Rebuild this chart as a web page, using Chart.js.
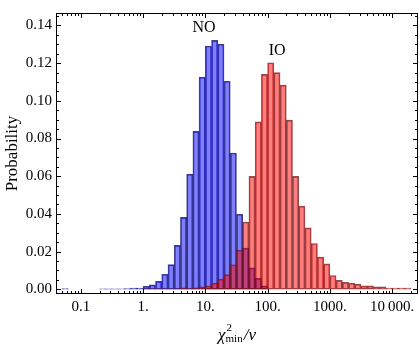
<!DOCTYPE html>
<html>
<head>
<meta charset="utf-8">
<script src="https://cdn.jsdelivr.net/npm/chart.js@4/dist/chart.umd.min.js"></script>
<style>
  html, body { margin: 0; padding: 0; background: #fff; }
  #wrap { width: 420px; height: 345px; }
</style>
</head>
<body>
<div id="wrap"><canvas id="histChart"></canvas></div>
<script>
// bins are 0.1 wide in log10(chi2/nu), each series starts at its first bin edge
const binWidthLog = 0.1;

const noStartLog = -1.3;
const noValues = [
    0.0004, null, null, null, null, null,
    0.0003, 0.0003, 0.0003, 0.0003, 0.0004, 0.0006, 0.0006,
    0.0016, 0.0023, 0.0042, 0.0080, 0.0131, 0.0233, 0.0382, 0.0611, 0.0838, 0.1126,
    0.1291, 0.1321, 0.1300, 0.1104, 0.0723, 0.0398, 0.0218, 0.0114, 0.0058, 0.0018
];

const ioStartLog = 0.0;
const ioValues = [
    0.0002, 0.0002, 0.0002, 0.0002, 0.0003, 0.0003, 0.0008, 0.0004, 0.0008, 0.0013,
    0.0018, 0.0032, 0.0054, 0.0078, 0.0130, 0.0207, 0.0357, 0.0599, 0.0888, 0.1140,
    0.1202, 0.1150, 0.1083, 0.0898, 0.0599, 0.0441, 0.0326, 0.0243, 0.0171, 0.0135,
    0.0073, 0.0047, 0.0037, 0.0032, 0.0027, 0.0018, 0.0018, 0.0013, 0.0013, 0.0006,
    0.0006, 0.0006, 0.0006
];

const xTickValues = [0.1, 1, 10, 100, 1000, 10000];
const xTickLabels = ['0.1', '1.', '10.', '100.', '1000.', '10\u2009000.'];
const yTickValues = [0, 0.02, 0.04, 0.06, 0.08, 0.10, 0.12, 0.14];

const serif = '"Liberation Serif", "DejaVu Serif", serif';

function toPoints(startLog, values) {
    return values.map((v, i) => {
        // round so both series share exactly the same bin centres
        const centre = Math.round((startLog + (i + 0.5) * binWidthLog) * 1000) / 1000;
        return { x: Math.pow(10, centre), y: v };
    });
}

// Frame with inward ticks on all four sides, the series names and the x title
const framePlugin = {
    id: 'frame',
    afterDatasetsDraw(chart) {
        const ctx = chart.ctx;
        const { left, right, top, bottom } = chart.chartArea;
        const xs = chart.scales.x;
        const ys = chart.scales.y;

        ctx.save();
        ctx.strokeStyle = '#000';
        ctx.lineWidth = 1;
        ctx.strokeRect(left + 0.5, top + 0.5, right - left - 1, bottom - top - 1);

        ctx.beginPath();
        for (let d = -2; d <= 4; d++) {
            for (let m = 1; m <= 9; m++) {
                const v = m * Math.pow(10, d);
                if (v < xs.min || v > xs.max) continue;
                const px = Math.round(xs.getPixelForValue(v)) + 0.5;
                const len = m === 1 ? 5 : 3;
                ctx.moveTo(px, bottom);
                ctx.lineTo(px, bottom - len);
                ctx.moveTo(px, top);
                ctx.lineTo(px, top + len);
            }
        }
        for (let k = 0; k <= 29; k++) {
            const v = k * 0.005;
            if (v > ys.max) break;
            const py = Math.round(ys.getPixelForValue(v)) + 0.5;
            const len = k % 4 === 0 ? 5 : 3;
            ctx.moveTo(left, py);
            ctx.lineTo(left + len, py);
            ctx.moveTo(right, py);
            ctx.lineTo(right - len, py);
        }
        ctx.stroke();

        // series names
        ctx.fillStyle = '#000';
        ctx.font = '16px ' + serif;
        ctx.textAlign = 'center';
        ctx.textBaseline = 'middle';
        ctx.fillText('NO', xs.getPixelForValue(9.5), ys.getPixelForValue(0.1387));
        ctx.fillText('IO', xs.getPixelForValue(142), ys.getPixelForValue(0.1268));

        // x title: chi^2_min / nu
        const big = 'italic 17px ' + serif;
        const small = '11px ' + serif;
        ctx.textAlign = 'left';
        ctx.textBaseline = 'alphabetic';
        ctx.font = big;
        const wChi = ctx.measureText('\u03c7').width;
        const wSlash = ctx.measureText('/').width;
        const wNu = ctx.measureText('\u03bd').width;
        ctx.font = small;
        const wMin = ctx.measureText('min').width;
        const total = wChi + wMin + 1 + wSlash + wNu;
        let x0 = (left + right) / 2 - total / 2;
        const base = 340;
        ctx.font = big;
        ctx.fillText('\u03c7', x0, base);
        x0 += wChi;
        ctx.font = small;
        ctx.fillText('2', x0 + 1, base - 9);
        ctx.fillText('min', x0, base + 2);
        x0 += wMin + 1;
        ctx.font = big;
        ctx.fillText('/', x0, base);
        ctx.fillText('\u03bd', x0 + wSlash, base);
        ctx.restore();
    }
};

const ctx = document.getElementById('histChart').getContext('2d');
const histChart = new Chart(ctx, {
    type: 'bar',
    data: {
        datasets: [
            {
                label: 'IO',
                data: toPoints(ioStartLog, ioValues),
                backgroundColor: 'rgba(255, 0, 0, 0.5)',
                borderColor: 'rgba(110, 20, 20, 0.75)',
                borderWidth: 1,
                borderSkipped: false,
                grouped: false,
                barPercentage: 1,
                categoryPercentage: 1,
                order: 0
            },
            {
                label: 'NO',
                data: toPoints(noStartLog, noValues),
                backgroundColor: 'rgba(0, 0, 255, 0.5)',
                borderColor: 'rgba(20, 20, 110, 0.8)',
                borderWidth: 1,
                borderSkipped: false,
                grouped: false,
                barPercentage: 1,
                categoryPercentage: 1,
                order: 1
            }
        ]
    },
    options: {
        responsive: true,
        maintainAspectRatio: false,
        animation: false,
        layout: {
            padding: { left: 0, right: 2, top: 5, bottom: 0 }
        },
        plugins: {
            legend: { display: false },
            tooltip: { enabled: false }
        },
        scales: {
            x: {
                type: 'logarithmic',
                min: 0.04,
                max: 26000,
                grid: { display: false, drawTicks: false },
                border: { display: false },
                afterBuildTicks: axis => {
                    axis.ticks = xTickValues.map(v => ({ value: v }));
                },
                afterFit: axis => {
                    axis.height = 51;
                },
                ticks: {
                    callback: (value, index) => xTickLabels[index],
                    autoSkip: false,
                    maxRotation: 0,
                    padding: 4,
                    color: '#000',
                    font: { family: serif, size: 15 }
                }
            },
            y: {
                min: -0.0025,
                max: 0.1466,
                grid: { display: false, drawTicks: false },
                border: { display: false },
                afterBuildTicks: axis => {
                    axis.ticks = yTickValues.map(v => ({ value: v }));
                },
                afterFit: axis => {
                    axis.width = 56;
                },
                ticks: {
                    callback: value => value.toFixed(2),
                    padding: 4,
                    color: '#000',
                    font: { family: serif, size: 15 }
                },
                title: {
                    display: true,
                    text: 'Probability',
                    color: '#000',
                    font: { family: serif, size: 17 },
                    padding: { top: 2, bottom: 0 }
                }
            }
        }
    },
    plugins: [framePlugin]
});
</script>
</body>
</html>
